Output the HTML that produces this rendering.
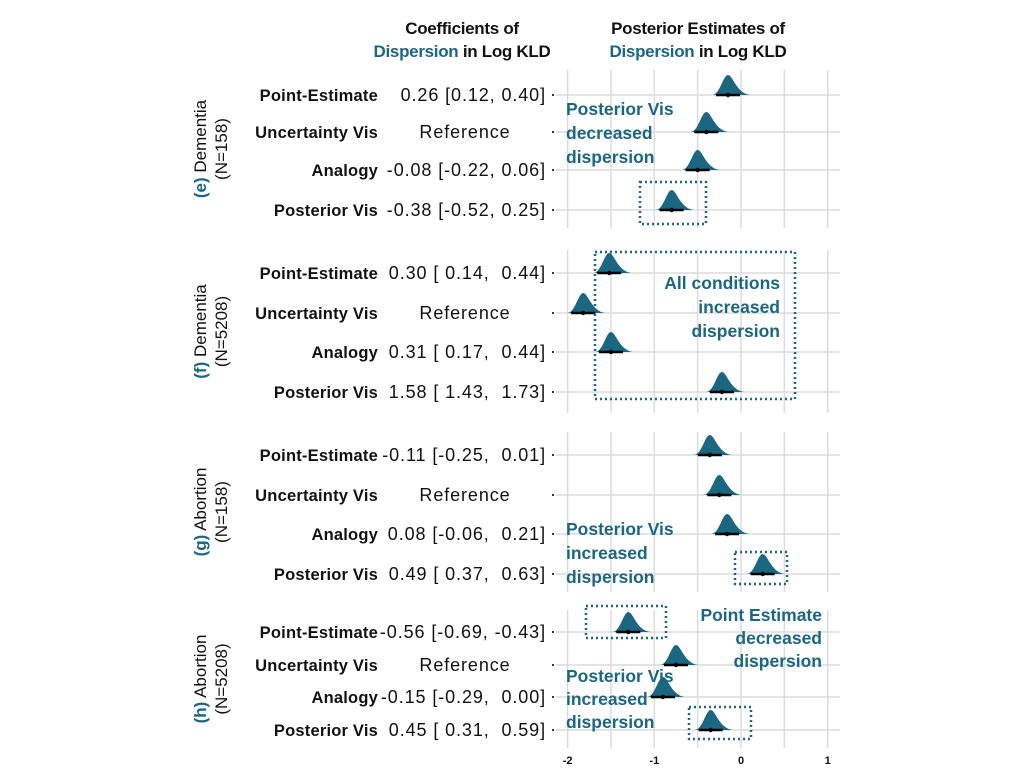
<!DOCTYPE html>
<html><head><meta charset="utf-8"><style>
body{margin:0;background:#fff;width:1024px;height:768px;overflow:hidden}
svg{display:block}
text{font-family:"Liberation Sans",sans-serif}
.rl{font-weight:bold;font-size:16.5px;text-anchor:end;fill:#111;letter-spacing:0.2px}
.cf{font-size:18px;fill:#111;letter-spacing:0.9px}
.hd{font-weight:bold;font-size:17px;text-anchor:middle;fill:#111;letter-spacing:-0.3px}
.tl{fill:#1b6680}
.an{font-weight:bold;font-size:17.5px;fill:#1b6680}
.ax{font-size:11px;text-anchor:middle;fill:#111;font-weight:bold}
</style></head><body>
<svg id="chart" width="1024" height="768">
<text class="hd" x="462" y="34">Coefficients of</text>
<text class="hd" x="462" y="57"><tspan class="tl">Dispersion</tspan> in Log KLD</text>
<text class="hd" x="698" y="34">Posterior Estimates of</text>
<text class="hd" x="698" y="57"><tspan class="tl">Dispersion</tspan> in Log KLD</text>
<g id="plot"></g>
<g id="annots">
<text class="an" x="566" y="115"><tspan x="566">Posterior Vis</tspan><tspan x="566" dy="24">decreased</tspan><tspan x="566" dy="24">dispersion</tspan></text>
<rect x="640" y="182" width="66" height="42" fill="none" stroke="#1b6680" stroke-width="2.5" stroke-dasharray="2,3"/>
<text class="an" text-anchor="end" x="780" y="289"><tspan x="780">All conditions</tspan><tspan x="780" dy="24">increased</tspan><tspan x="780" dy="24">dispersion</tspan></text>
<rect x="595" y="252" width="200" height="147" fill="none" stroke="#1b6680" stroke-width="2.5" stroke-dasharray="2,3"/>
<text class="an" x="566" y="535"><tspan x="566">Posterior Vis</tspan><tspan x="566" dy="24">increased</tspan><tspan x="566" dy="24">dispersion</tspan></text>
<rect x="735" y="552" width="52" height="32" fill="none" stroke="#1b6680" stroke-width="2.5" stroke-dasharray="2,3"/>
<text class="an" text-anchor="end" x="822" y="621"><tspan x="822">Point Estimate</tspan><tspan x="822" dy="23">decreased</tspan><tspan x="822" dy="23">dispersion</tspan></text>
<rect x="586" y="606" width="80" height="32" fill="none" stroke="#1b6680" stroke-width="2.5" stroke-dasharray="2,3"/>
<text class="an" x="566" y="682"><tspan x="566">Posterior Vis</tspan><tspan x="566" dy="23">increased</tspan><tspan x="566" dy="23">dispersion</tspan></text>
<rect x="689" y="707" width="62" height="32" fill="none" stroke="#1b6680" stroke-width="2.5" stroke-dasharray="2,3"/>
</g>
</svg>
<script>
const panelLetters=["(e)","(f)","(g)","(h)"];
const panelTopics=["Dementia","Dementia","Abortion","Abortion"];
const panelNs=["(N=158)","(N=5208)","(N=158)","(N=5208)"];
const conditions=["Point-Estimate","Uncertainty Vis","Analogy","Posterior Vis"];
const coefE=["0.26 [0.12, 0.40]","Reference","-0.08 [-0.22, 0.06]","-0.38 [-0.52, 0.25]"];
const coefF=["0.30 [ 0.14,  0.44]","Reference","0.31 [ 0.17,  0.44]","1.58 [ 1.43,  1.73]"];
const coefG=["-0.11 [-0.25,  0.01]","Reference","0.08 [-0.06,  0.21]","0.49 [ 0.37,  0.63]"];
const coefH=["-0.56 [-0.69, -0.43]","Reference","-0.15 [-0.29,  0.00]","0.45 [ 0.31,  0.59]"];
const estE=[-0.15,-0.40,-0.50,-0.80];
const estF=[-1.52,-1.82,-1.50,-0.22];
const estG=[-0.36,-0.25,-0.16,0.25];
const estH=[-1.30,-0.75,-0.90,-0.35];
const xTicks=[-2,-1,0,1];
const xGrid=[-2,-1.5,-1,-0.5,0,0.5,1];

const coefs=[coefE,coefF,coefG,coefH];
const ests=[estE,estF,estG,estH];
const layout=[{top:70,bot:228,rows:[95,132,170,210]},{top:250,bot:413,rows:[273,313,352,392]},{top:432,bot:592,rows:[455,495,534,574]},{top:610,bot:748,rows:[632,665,697,730]}];
const xs=v=>741+v*86.7;
const NS="http://www.w3.org/2000/svg";
const g=document.getElementById('plot');
function mk(t,a){const e=document.createElementNS(NS,t);for(const k in a)e.setAttribute(k,a[k]);g.appendChild(e);return e;}
layout.forEach((L,p)=>{
  xGrid.forEach(v=>{
    const l=mk('line',{x1:xs(v),x2:xs(v),y1:L.top,y2:L.bot,stroke:'#dcdcdc','stroke-width':1.5});
    
    
  });
  const cy=(L.top+L.bot)/2;
  const ft=mk('text',{transform:`translate(206,${cy}) rotate(-90)`,'text-anchor':'middle','font-size':17,fill:'#111'});
  ft.innerHTML=`<tspan fill="#1b6680" font-weight="bold">${panelLetters[p]}</tspan> ${panelTopics[p]}`;
  
  
  const fn=mk('text',{transform:`translate(227,${cy}) rotate(-90)`,'text-anchor':'middle','font-size':17,fill:'#111'});
  fn.textContent=panelNs[p];
  
  
  L.rows.forEach((y,i)=>{
    const hl=mk('line',{x1:556,x2:840,y1:y,y2:y,stroke:'#dcdcdc','stroke-width':1.5});
    
    
    const tk=mk('rect',{x:552,y:y-1,width:2,height:2,fill:'#333'});
    
    
    const rl=mk('text',{class:'rl',x:378,y:y+6});
    rl.textContent=conditions[i];
    
    
    const c=coefs[p][i];
    const ref=c==='Reference';
    const ct=mk('text',{class:'cf',x:ref?465:546,y:y+6,'text-anchor':ref?'middle':'end'});
    ct.style.whiteSpace='pre';
    ct.textContent=c;
    
    
    const x=xs(ests[p][i]);
    const d=`M${x-16},${y} C${x-8},${y} ${x-5},${y-20} ${x},${y-20} C${x+5},${y-20} ${x+8},${y-2} ${x+22},${y} Z`;
    const dn=mk('path',{d:d,fill:'#1b6680'});
    
    
    const ln=mk('line',{x1:x-12,x2:x+12,y1:y,y2:y,stroke:'#000','stroke-width':2.5});
    
    
    const pt=mk('circle',{cx:x,cy:y,r:2.2,fill:'#000'});
    
    
  });
});
xTicks.forEach(v=>{
  const t=mk('text',{class:'ax',x:xs(v),y:764});
  t.textContent=v;
  
  
});
</script>
</body></html>
